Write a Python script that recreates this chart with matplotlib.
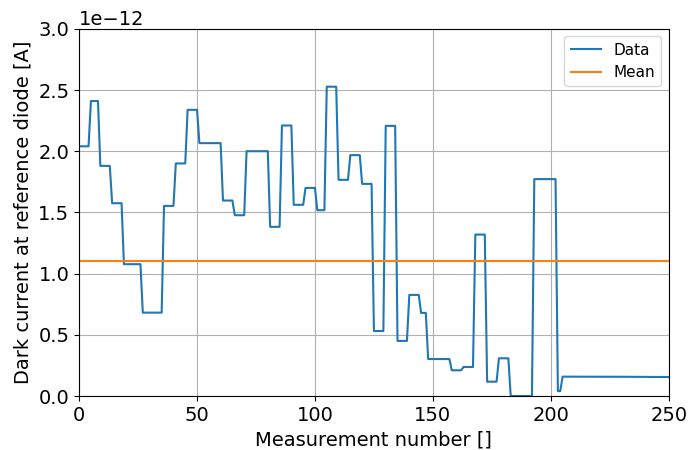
import matplotlib
matplotlib.use("Agg")
import matplotlib.pyplot as plt

# vertices of the dark-current trace (measurement number, current in 1e-12 A)
meas = [0, 4, 5, 8, 9, 13, 14, 18, 19, 26, 27, 35, 36, 40, 41, 45, 46, 50,
        51, 60, 61, 65, 66, 70, 71, 80, 81, 85, 86, 90, 91, 95, 96, 100,
        101, 104, 105, 109, 110, 114, 115, 119, 120, 124, 125, 129, 130, 134,
        135, 139, 140, 144, 145, 147, 148, 157, 158, 162, 163, 167, 168, 172,
        173, 177, 178, 182, 183, 192, 193, 202, 203, 204, 205, 231, 250]
current = [2.04, 2.04, 2.41, 2.41, 1.88, 1.88, 1.575, 1.575, 1.077, 1.077,
           0.681, 0.681, 1.553, 1.553, 1.90, 1.90, 2.338, 2.338,
           2.066, 2.066, 1.597, 1.597, 1.477, 1.477, 2.00, 2.00, 1.382, 1.382,
           2.21, 2.21, 1.562, 1.562, 1.70, 1.70,
           1.518, 1.518, 2.527, 2.527, 1.766, 1.766, 1.968, 1.968, 1.733, 1.733,
           0.531, 0.531, 2.207, 2.207,
           0.45, 0.45, 0.826, 0.826, 0.679, 0.679, 0.302, 0.302, 0.21, 0.21,
           0.237, 0.237, 1.319, 1.319,
           0.117, 0.117, 0.308, 0.308, 0.0, 0.0, 1.772, 1.772, 0.04, 0.04,
           0.158, 0.157, 0.155]
mean_current = 1.105  # 1e-12 A

scale = 1e-12
ys = [c * scale for c in current]

plt.rcParams["font.size"] = 14
fig, ax = plt.subplots(figsize=(6.88, 4.5), dpi=100)
ax.plot(meas, ys, label="Data")
ax.plot([0, 250], [mean_current * scale] * 2, label="Mean")
ax.set_xlim(0, 250)
ax.set_ylim(0, 3.0e-12)
ax.set_xlabel("Measurement number []")
ax.set_ylabel("Dark current at reference diode [A]")
ax.grid(True)
ax.legend(loc="upper right", fontsize=11)
fig.subplots_adjust(left=0.115, right=0.972, top=0.936, bottom=0.12)
fig.savefig("out.png", dpi=100)
